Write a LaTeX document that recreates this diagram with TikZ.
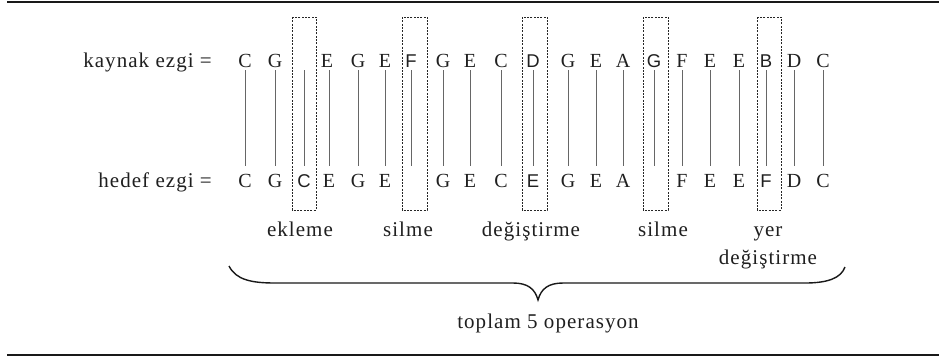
\documentclass[tikz,border=0pt]{standalone}
\usepackage{fontspec}
\setmainfont{Liberation Serif}
\newfontfamily\tx[LetterSpace=5]{Liberation Serif}
\newfontfamily\sx{Liberation Sans}
\begin{document}
\begin{tikzpicture}[x=1pt,y=-1pt,
  ink/.style={color=black!88},
  note/.style={ink,inner sep=0pt,font=\tx\fontsize{21}{28}\selectfont},
  lt/.style={ink,inner sep=0pt,anchor=base,text height=13pt,text depth=0pt,font=\fontsize{20}{22}\selectfont},
  ls/.style={lt,font=\sx\fontsize{18.5}{22}\selectfont},
  link/.style={draw=black!60,line width=0.6pt,shorten <=3pt,shorten >=8pt},
  opbox/.style={draw=black!85,line width=0.8pt,dash pattern=on 2pt off 1.3pt},
  rule/.style={draw=black!90,line width=1.8pt},
  bracepath/.style={draw=black!90,line width=1.4pt}]
\useasboundingbox (0,0) rectangle (939,360);
% rules
\coordinate (r1a) at (7,2); \coordinate (r1b) at (939,2);
\coordinate (r2a) at (7,355); \coordinate (r2b) at (939,355);
\draw[rule] (r1a) -- (r1b);
\draw[rule] (r2a) -- (r2b);
% row labels
\node[note,anchor=base east] (lk) at (212,67) {kaynak ezgi =};
\node[note,anchor=base east] (lh) at (212,187) {hedef ezgi =};
% operation boxes
\draw[opbox] (292,17) rectangle (316,210);
\draw[opbox] (402,17) rectangle (427,210);
\draw[opbox] (522,17) rectangle (547,210);
\draw[opbox] (643,17) rectangle (668,210);
\draw[opbox] (757,17) rectangle (781,210);
% top row
\node[lt] (t1) at (245,67) {C};
\node[lt] (t2) at (275,67) {G};
\node[lt] (t3) at (304,67) {};
\node[lt] (t4) at (327,67) {E};
\node[lt] (t5) at (358,67) {G};
\node[lt] (t6) at (385,67) {E};
\node[ls] (t7) at (411,67) {F};
\node[lt] (t8) at (443,67) {G};
\node[lt] (t9) at (470,67) {E};
\node[lt] (t10) at (501,67) {C};
\node[ls] (t11) at (533,67) {D};
\node[lt] (t12) at (568,67) {G};
\node[lt] (t13) at (596,67) {E};
\node[lt] (t14) at (623,67) {A};
\node[ls] (t15) at (654,67) {G};
\node[lt] (t16) at (682,67) {F};
\node[lt] (t17) at (710,67) {E};
\node[lt] (t18) at (739,67) {E};
\node[ls] (t19) at (766,67) {B};
\node[lt] (t20) at (794,67) {D};
\node[lt] (t21) at (823,67) {C};
% bottom row
\node[lt] (b1) at (245,187) {C};
\node[lt] (b2) at (275,187) {G};
\node[ls] (b3) at (304,187) {C};
\node[lt] (b4) at (329,187) {E};
\node[lt] (b5) at (358,187) {G};
\node[lt] (b6) at (385,187) {E};
\node[lt] (b7) at (411,187) {};
\node[lt] (b8) at (443,187) {G};
\node[lt] (b9) at (470,187) {E};
\node[lt] (b10) at (501,187) {C};
\node[ls] (b11) at (533,187) {E};
\node[lt] (b12) at (568,187) {G};
\node[lt] (b13) at (596,187) {E};
\node[lt] (b14) at (623,187) {A};
\node[lt] (b15) at (654,187) {};
\node[lt] (b16) at (682,187) {F};
\node[lt] (b17) at (710,187) {E};
\node[lt] (b18) at (739,187) {E};
\node[ls] (b19) at (766,187) {F};
\node[lt] (b20) at (794,187) {D};
\node[lt] (b21) at (823,187) {C};
% links
\foreach \i in {1,...,21} {
  \draw[link] (b\i.north |- t\i.south) -- (b\i.north);
}
% operation labels
\node[note,anchor=base] (o1) at (300,236) {ekleme};
\node[note,anchor=base] (o2) at (408,236) {silme};
\node[note,anchor=base] (o3) at (531,236) {değiştirme};
\node[note,anchor=base] (o4) at (663,236) {silme};
\node[note,anchor=base] (o5) at (768,236) {yer};
\node[note,anchor=base] (o5b) at (768,264) {değiştirme};
% brace
\coordinate (bl) at (229,266);
\coordinate (bt) at (538,300);
\coordinate (br) at (845,267);
\draw[bracepath] (bl) .. controls (236,280) and (252,283) .. (275,283) -- (513,283)
  .. controls (528,283) and (535,289) .. (bt)
  .. controls (541,289) and (548,283) .. (563,283) -- (805,283)
  .. controls (828,283) and (841,278) .. (br);
\node[note,anchor=base] (tot) at (548,328) {toplam 5 operasyon};
\end{tikzpicture}
\end{document}
